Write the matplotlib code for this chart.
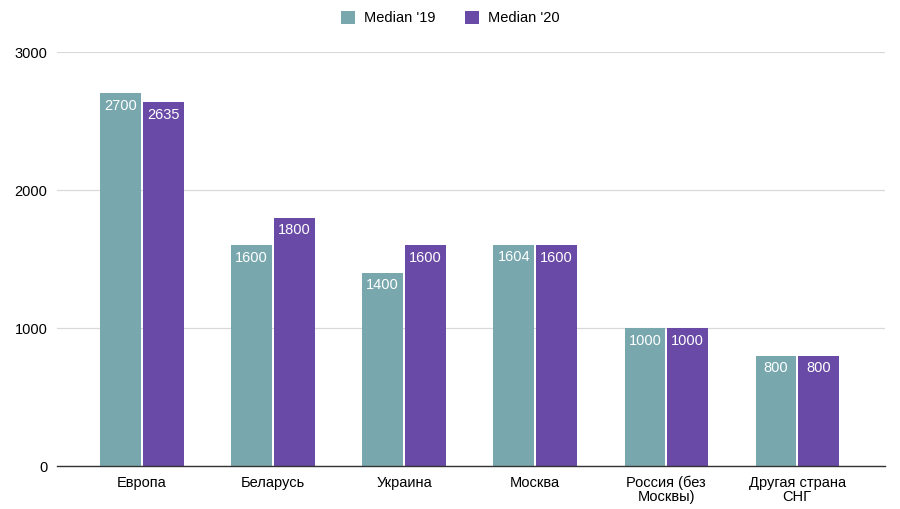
import matplotlib.pyplot as plt
import numpy as np

categories = ["Европа", "Беларусь", "Украина", "Москва", "Россия (без\nМосквы)", "Другая страна\nСНГ"]
median_19 = [2700, 1600, 1400, 1604, 1000, 800]
median_20 = [2635, 1800, 1600, 1600, 1000, 800]
series_names = ["Median '19", "Median '20"]
yticks = [0, 1000, 2000, 3000]

plt.rcParams['font.family'] = ['Liberation Sans', 'DejaVu Sans']
c19 = "#78A8AE"
c20 = "#6A4AA7"

fig = plt.figure(figsize=(9, 5.09), dpi=100)
ax = fig.add_axes([57/900, 1-466/509, (885-57)/900, (466-52)/509])

x = np.arange(len(categories))
w = 0.31
off = 0.163
b1 = ax.bar(x - off, median_19, w, color=c19, label=series_names[0])
b2 = ax.bar(x + off, median_20, w, color=c20, label=series_names[1])

for bars, vals in ((b1, median_19), (b2, median_20)):
    for b, v in zip(bars, vals):
        ax.annotate(str(v), (b.get_x() + b.get_width()/2, v), xytext=(0, -4),
                    textcoords="offset points", ha="center", va="top",
                    color="white", fontsize=10.5)

ax.set_xlim(-0.649, 5.67)
ax.set_ylim(0, 3000)
ax.set_yticks(yticks)
ax.set_yticklabels([str(t) for t in yticks], fontsize=10.5)
ax.set_xticks(x)
ax.set_xticklabels(categories, fontsize=10.5, linespacing=1.0)
ax.tick_params(axis='x', length=0, pad=7)
ax.tick_params(axis='y', length=0, pad=7)
ax.grid(axis='y', color='#D9D9D9', linewidth=0.9)
ax.set_axisbelow(True)
for s in ['top', 'right', 'left']:
    ax.spines[s].set_visible(False)
ax.spines['bottom'].set_color('#333333')
ax.spines['bottom'].set_linewidth(1.0)

fig.legend(handles=[b1, b2], labels=series_names, loc='center', bbox_to_anchor=(0.5, 1-18/509),
           ncol=2, frameon=False, fontsize=10.5, handlelength=1.0, handleheight=1.0,
           columnspacing=2.0, handletextpad=0.6)

fig.savefig("out.png", dpi=100)
